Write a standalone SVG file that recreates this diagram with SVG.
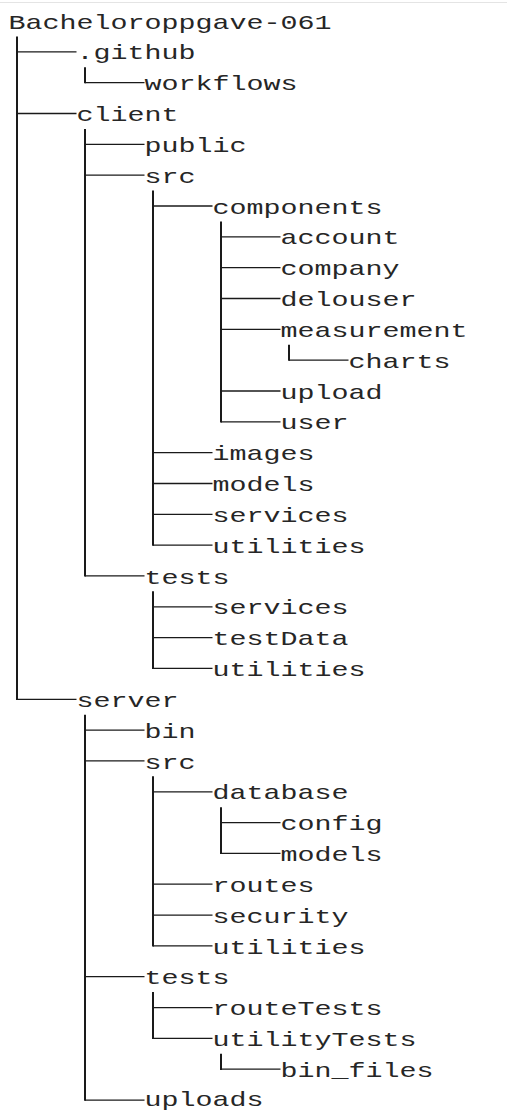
<svg xmlns="http://www.w3.org/2000/svg" width="507" height="1111" viewBox="0 0 507 1111">
  <style>
    .bg { fill: #ffffff; }
    .rule { stroke: #e4e4e4; stroke-width: 1; }
    .name { font-family: "Liberation Mono", "Courier New", monospace; font-size: 21px; fill: #262626; }
    .v { stroke: #1a1a1a; stroke-width: 2; fill: none; }
    .h { stroke: #1a1a1a; stroke-width: 1.3; fill: none; }
  </style>
  <rect class="bg" x="0" y="0" width="507" height="1111"/>
  <line class="rule" x1="0" y1="2.5" x2="507" y2="2.5"/>

  <!-- tree connectors: one vertical trunk per parent, one elbow per child -->
  <g id="connectors">
    <!-- verticals -->
    <line class="v" x1="17" y1="36.4" x2="17" y2="699.9"/>
    <line class="v" x1="85" y1="67.2" x2="85" y2="83.3"/>
    <line class="v" x1="85" y1="128.9" x2="85" y2="576.6"/>
    <line class="v" x1="153" y1="190.6" x2="153" y2="545.8"/>
    <line class="v" x1="221" y1="221.4" x2="221" y2="422.4"/>
    <line class="v" x1="289" y1="344.7" x2="289" y2="360.8"/>
    <line class="v" x1="153" y1="591.3" x2="153" y2="669.1"/>
    <line class="v" x1="85" y1="714.7" x2="85" y2="1100.7"/>
    <line class="v" x1="153" y1="776.3" x2="153" y2="946.6"/>
    <line class="v" x1="221" y1="807.2" x2="221" y2="854.1"/>
    <line class="v" x1="153" y1="992.1" x2="153" y2="1039.0"/>
    <line class="v" x1="221" y1="1053.8" x2="221" y2="1069.9"/>
    <!-- horizontals -->
    <line class="h" x1="17" y1="51.8" x2="76.5" y2="51.8"/>
    <line class="h" x1="85" y1="82.7" x2="144.5" y2="82.7"/>
    <line class="h" x1="17" y1="113.5" x2="76.5" y2="113.5"/>
    <line class="h" x1="85" y1="144.3" x2="144.5" y2="144.3"/>
    <line class="h" x1="85" y1="175.2" x2="144.5" y2="175.2"/>
    <line class="h" x1="153" y1="206.0" x2="212.5" y2="206.0"/>
    <line class="h" x1="221" y1="236.8" x2="280.5" y2="236.8"/>
    <line class="h" x1="221" y1="267.6" x2="280.5" y2="267.6"/>
    <line class="h" x1="221" y1="298.5" x2="280.5" y2="298.5"/>
    <line class="h" x1="221" y1="329.3" x2="280.5" y2="329.3"/>
    <line class="h" x1="289" y1="360.1" x2="348.5" y2="360.1"/>
    <line class="h" x1="221" y1="391.0" x2="280.5" y2="391.0"/>
    <line class="h" x1="221" y1="421.8" x2="280.5" y2="421.8"/>
    <line class="h" x1="153" y1="452.6" x2="212.5" y2="452.6"/>
    <line class="h" x1="153" y1="483.5" x2="212.5" y2="483.5"/>
    <line class="h" x1="153" y1="514.3" x2="212.5" y2="514.3"/>
    <line class="h" x1="153" y1="545.1" x2="212.5" y2="545.1"/>
    <line class="h" x1="85" y1="575.9" x2="144.5" y2="575.9"/>
    <line class="h" x1="153" y1="606.8" x2="212.5" y2="606.8"/>
    <line class="h" x1="153" y1="637.6" x2="212.5" y2="637.6"/>
    <line class="h" x1="153" y1="668.4" x2="212.5" y2="668.4"/>
    <line class="h" x1="17" y1="699.3" x2="76.5" y2="699.3"/>
    <line class="h" x1="85" y1="730.1" x2="144.5" y2="730.1"/>
    <line class="h" x1="85" y1="760.9" x2="144.5" y2="760.9"/>
    <line class="h" x1="153" y1="791.8" x2="212.5" y2="791.8"/>
    <line class="h" x1="221" y1="822.6" x2="280.5" y2="822.6"/>
    <line class="h" x1="221" y1="853.4" x2="280.5" y2="853.4"/>
    <line class="h" x1="153" y1="884.2" x2="212.5" y2="884.2"/>
    <line class="h" x1="153" y1="915.1" x2="212.5" y2="915.1"/>
    <line class="h" x1="153" y1="945.9" x2="212.5" y2="945.9"/>
    <line class="h" x1="85" y1="976.7" x2="144.5" y2="976.7"/>
    <line class="h" x1="153" y1="1007.6" x2="212.5" y2="1007.6"/>
    <line class="h" x1="153" y1="1038.4" x2="212.5" y2="1038.4"/>
    <line class="h" x1="221" y1="1069.2" x2="280.5" y2="1069.2"/>
    <line class="h" x1="85" y1="1100.1" x2="144.5" y2="1100.1"/>
  </g>

  <!-- folder names, 17px per character column -->
  <g id="root"><text class="name" x="8.5" y="28.6" textLength="323" lengthAdjust="spacingAndGlyphs">Bacheloroppgave-061</text></g>
  <g id="github"><text class="name" x="76.5" y="59.4" textLength="119" lengthAdjust="spacingAndGlyphs">.github</text></g>
  <g id="github-workflows"><text class="name" x="144.5" y="90.3" textLength="153" lengthAdjust="spacingAndGlyphs">workflows</text></g>
  <g id="client"><text class="name" x="76.5" y="121.1" textLength="102" lengthAdjust="spacingAndGlyphs">client</text></g>
  <g id="client-public"><text class="name" x="144.5" y="151.9" textLength="102" lengthAdjust="spacingAndGlyphs">public</text></g>
  <g id="client-src"><text class="name" x="144.5" y="182.8" textLength="51" lengthAdjust="spacingAndGlyphs">src</text></g>
  <g id="client-src-components"><text class="name" x="212.5" y="213.6" textLength="170" lengthAdjust="spacingAndGlyphs">components</text></g>
  <g id="components-account"><text class="name" x="280.5" y="244.4" textLength="119" lengthAdjust="spacingAndGlyphs">account</text></g>
  <g id="components-company"><text class="name" x="280.5" y="275.2" textLength="119" lengthAdjust="spacingAndGlyphs">company</text></g>
  <g id="components-delouser"><text class="name" x="280.5" y="306.1" textLength="136" lengthAdjust="spacingAndGlyphs">delouser</text></g>
  <g id="components-measurement"><text class="name" x="280.5" y="336.9" textLength="187" lengthAdjust="spacingAndGlyphs">measurement</text></g>
  <g id="measurement-charts"><text class="name" x="348.5" y="367.7" textLength="102" lengthAdjust="spacingAndGlyphs">charts</text></g>
  <g id="components-upload"><text class="name" x="280.5" y="398.6" textLength="102" lengthAdjust="spacingAndGlyphs">upload</text></g>
  <g id="components-user"><text class="name" x="280.5" y="429.4" textLength="68" lengthAdjust="spacingAndGlyphs">user</text></g>
  <g id="client-src-images"><text class="name" x="212.5" y="460.2" textLength="102" lengthAdjust="spacingAndGlyphs">images</text></g>
  <g id="client-src-models"><text class="name" x="212.5" y="491.1" textLength="102" lengthAdjust="spacingAndGlyphs">models</text></g>
  <g id="client-src-services"><text class="name" x="212.5" y="521.9" textLength="136" lengthAdjust="spacingAndGlyphs">services</text></g>
  <g id="client-src-utilities"><text class="name" x="212.5" y="552.7" textLength="153" lengthAdjust="spacingAndGlyphs">utilities</text></g>
  <g id="client-tests"><text class="name" x="144.5" y="583.5" textLength="85" lengthAdjust="spacingAndGlyphs">tests</text></g>
  <g id="client-tests-services"><text class="name" x="212.5" y="614.4" textLength="136" lengthAdjust="spacingAndGlyphs">services</text></g>
  <g id="client-tests-testData"><text class="name" x="212.5" y="645.2" textLength="136" lengthAdjust="spacingAndGlyphs">testData</text></g>
  <g id="client-tests-utilities"><text class="name" x="212.5" y="676.0" textLength="153" lengthAdjust="spacingAndGlyphs">utilities</text></g>
  <g id="server"><text class="name" x="76.5" y="706.9" textLength="102" lengthAdjust="spacingAndGlyphs">server</text></g>
  <g id="server-bin"><text class="name" x="144.5" y="737.7" textLength="51" lengthAdjust="spacingAndGlyphs">bin</text></g>
  <g id="server-src"><text class="name" x="144.5" y="768.5" textLength="51" lengthAdjust="spacingAndGlyphs">src</text></g>
  <g id="server-src-database"><text class="name" x="212.5" y="799.4" textLength="136" lengthAdjust="spacingAndGlyphs">database</text></g>
  <g id="database-config"><text class="name" x="280.5" y="830.2" textLength="102" lengthAdjust="spacingAndGlyphs">config</text></g>
  <g id="database-models"><text class="name" x="280.5" y="861.0" textLength="102" lengthAdjust="spacingAndGlyphs">models</text></g>
  <g id="server-src-routes"><text class="name" x="212.5" y="891.8" textLength="102" lengthAdjust="spacingAndGlyphs">routes</text></g>
  <g id="server-src-security"><text class="name" x="212.5" y="922.7" textLength="136" lengthAdjust="spacingAndGlyphs">security</text></g>
  <g id="server-src-utilities"><text class="name" x="212.5" y="953.5" textLength="153" lengthAdjust="spacingAndGlyphs">utilities</text></g>
  <g id="server-tests"><text class="name" x="144.5" y="984.3" textLength="85" lengthAdjust="spacingAndGlyphs">tests</text></g>
  <g id="server-tests-routeTests"><text class="name" x="212.5" y="1015.2" textLength="170" lengthAdjust="spacingAndGlyphs">routeTests</text></g>
  <g id="server-tests-utilityTests"><text class="name" x="212.5" y="1046.0" textLength="204" lengthAdjust="spacingAndGlyphs">utilityTests</text></g>
  <g id="utilityTests-bin_files"><text class="name" x="280.5" y="1076.8" textLength="153" lengthAdjust="spacingAndGlyphs">bin_files</text></g>
  <!-- last row sits a little higher so its descender stays inside the canvas -->
  <g id="server-uploads"><text class="name" x="144.5" y="1105.8" textLength="119" lengthAdjust="spacingAndGlyphs">uploads</text></g>
</svg>
